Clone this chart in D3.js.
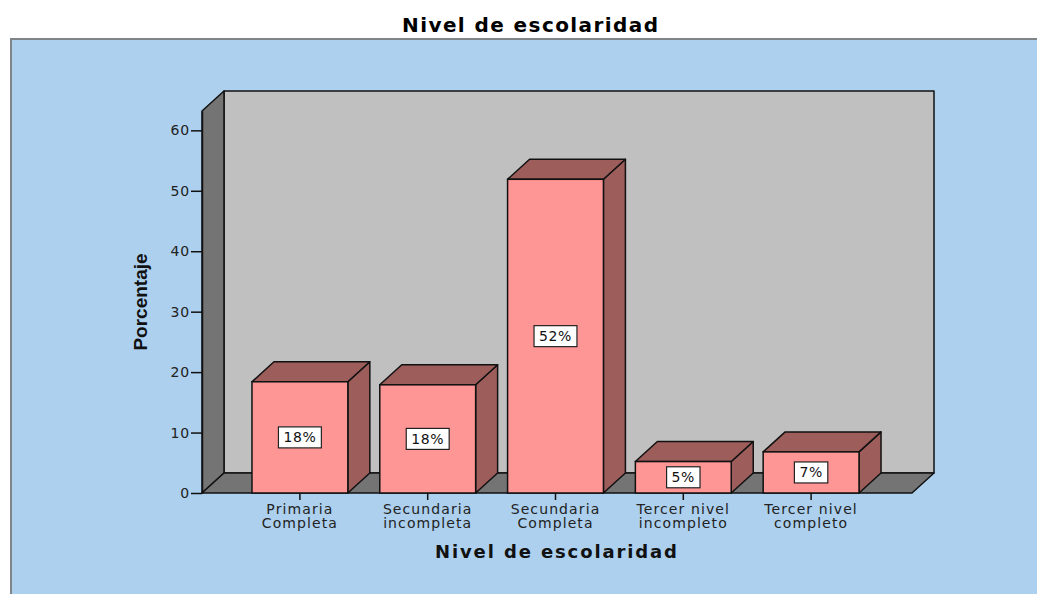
<!DOCTYPE html>
<html>
<head>
<meta charset="utf-8">
<script src="https://cdn.jsdelivr.net/npm/d3@7"></script>
<style>
  html, body { margin: 0; padding: 0; background: #ffffff; }
  svg { display: block; }
</style>
</head>
<body>
<svg id="chart" width="1037" height="594"></svg>
<script>
// ---- data ----
const categories = [["Primaria", "Completa"], ["Secundaria", "incompleta"], ["Secundaria", "Completa"], ["Tercer nivel", "incompleto"], ["Tercer nivel", "completo"]];
const values = [18.4, 17.9, 51.9, 5.2, 6.8];
const valueLabels = ["18%", "18%", "52%", "5%", "7%"];
const yTicks = [0, 10, 20, 30, 40, 50, 60];
const chartTitle = "Nivel de escolaridad";
const xTitle = "Nivel de escolaridad";
const yTitle = "Porcentaje";

// ---- layout ----
const W = 1037, H = 594;
const svg = d3.select("#chart");
const font = "'DejaVu Sans', Verdana, sans-serif";
const boldFont = "'DejaVu Sans', Verdana, sans-serif";
const dx = 22, dy = -20;           // 3D depth offset
const floorLeft = 202, floorRight = 912;

const keys = categories.map((c, i) => i);
const x = d3.scaleBand().domain(keys).range([236, 875]).paddingInner(0.25).paddingOuter(0.125);
const y = d3.scaleLinear().domain([0, 63.2]).range([493, 111]);

// background panel
svg.append("rect").attr("x", 0).attr("y", 0).attr("width", W).attr("height", H).attr("fill", "#ffffff");
svg.append("rect").attr("x", 11).attr("y", 39).attr("width", W + 10).attr("height", H + 10)
  .attr("fill", "#acd0ee").attr("stroke", "#7f8487").attr("stroke-width", 2);

// title
svg.append("text").attr("x", 530).attr("y", 31.5).attr("text-anchor", "middle")
  .attr("font-family", boldFont).attr("font-weight", "bold").attr("font-size", 20)
  .attr("textLength", 256).attr("lengthAdjust", "spacing")
  .attr("fill", "#000").text(chartTitle);

const y0 = y(0), yTop = y.range()[1];
const pts = a => a.map(p => p.join(",")).join(" ");

// back wall
svg.append("polygon")
  .attr("points", pts([[floorLeft + dx, yTop + dy], [floorRight + dx, yTop + dy], [floorRight + dx, y0 + dy], [floorLeft + dx, y0 + dy]]))
  .attr("fill", "#c0c0c0").attr("stroke", "#111").attr("stroke-width", 1.5).attr("stroke-linejoin", "round");
// left wall
svg.append("polygon")
  .attr("points", pts([[floorLeft, yTop], [floorLeft + dx, yTop + dy], [floorLeft + dx, y0 + dy], [floorLeft, y0]]))
  .attr("fill", "#747474").attr("stroke", "#111").attr("stroke-width", 1.5).attr("stroke-linejoin", "round");
// floor
svg.append("polygon")
  .attr("points", pts([[floorLeft, y0], [floorLeft + dx, y0 + dy], [floorRight + dx, y0 + dy], [floorRight, y0]]))
  .attr("fill", "#747474").attr("stroke", "#111").attr("stroke-width", 1.5).attr("stroke-linejoin", "round");

// y axis
const yAxis = svg.append("g").attr("transform", `translate(${floorLeft},0)`)
  .call(d3.axisLeft(y).tickValues(yTicks).tickSize(11).tickSizeOuter(0).tickPadding(1));
yAxis.select(".domain").attr("stroke", "#111").attr("stroke-width", 1.5);
yAxis.selectAll(".tick line").attr("stroke", "#111").attr("stroke-width", 1.5);
yAxis.selectAll(".tick text").attr("font-family", font).attr("font-size", 14).attr("fill", "#222")
  .attr("letter-spacing", 0.8);

// x axis ticks
const xAxis = svg.append("g").attr("transform", `translate(0,${y0})`)
  .call(d3.axisBottom(x).tickSize(7).tickFormat(""));
xAxis.select(".domain").remove();
xAxis.selectAll(".tick line").attr("stroke", "#111").attr("stroke-width", 1.5);

// x category labels
categories.forEach((c, i) => {
  const t = svg.append("text").attr("text-anchor", "middle")
    .attr("font-family", font).attr("font-size", 14).attr("fill", "#222")
    .attr("letter-spacing", 1.1);
  c.forEach((line, j) => {
    t.append("tspan").attr("x", x(i) + x.bandwidth() / 2).attr("y", 514 + j * 14).text(line);
  });
});

// bars
const bw = x.bandwidth();
keys.forEach(i => {
  const x0 = x(i), x1 = x(i) + bw, yt = y(values[i]);
  const g = svg.append("g");
  // right side
  g.append("polygon")
    .attr("points", pts([[x1, yt], [x1 + dx, yt + dy], [x1 + dx, y0 + dy], [x1, y0]]))
    .attr("fill", "#9c5d5b").attr("stroke", "#111").attr("stroke-width", 1.5).attr("stroke-linejoin", "round");
  // top
  g.append("polygon")
    .attr("points", pts([[x0, yt], [x0 + dx, yt + dy], [x1 + dx, yt + dy], [x1, yt]]))
    .attr("fill", "#9c5d5b").attr("stroke", "#111").attr("stroke-width", 1.5).attr("stroke-linejoin", "round");
  // front
  g.append("rect").attr("x", x0).attr("y", yt).attr("width", bw).attr("height", y0 - yt)
    .attr("fill", "#ff9696").attr("stroke", "#111").attr("stroke-width", 1.5);

  // value label box
  const cx = x0 + bw / 2, cy = (yt + y0) / 2;
  const lbl = g.append("text").attr("x", cx).attr("y", cy + 5).attr("text-anchor", "middle")
    .attr("font-family", font).attr("font-size", 14).attr("letter-spacing", 0.6)
    .attr("fill", "#111").text(valueLabels[i]);
  const tw = lbl.node().getComputedTextLength();
  g.insert("rect", "text").attr("x", cx - tw / 2 - 5).attr("y", cy - 10.5).attr("width", tw + 10).attr("height", 21)
    .attr("fill", "#ffffff").attr("stroke", "#222").attr("stroke-width", 1.2);
});

// x title
svg.append("text").attr("x", 556).attr("y", 558).attr("text-anchor", "middle")
  .attr("font-family", boldFont).attr("font-weight", "bold").attr("font-size", 18)
  .attr("textLength", 242).attr("lengthAdjust", "spacing")
  .attr("fill", "#111").text(xTitle);

// y title
svg.append("text").attr("transform", "translate(147,302) rotate(-90)").attr("text-anchor", "middle")
  .attr("font-family", "'Liberation Sans Narrow', 'Liberation Sans', Arial, sans-serif")
  .attr("font-weight", "bold").attr("font-size", 19).attr("fill", "#111").text(yTitle);
</script>
</body>
</html>
